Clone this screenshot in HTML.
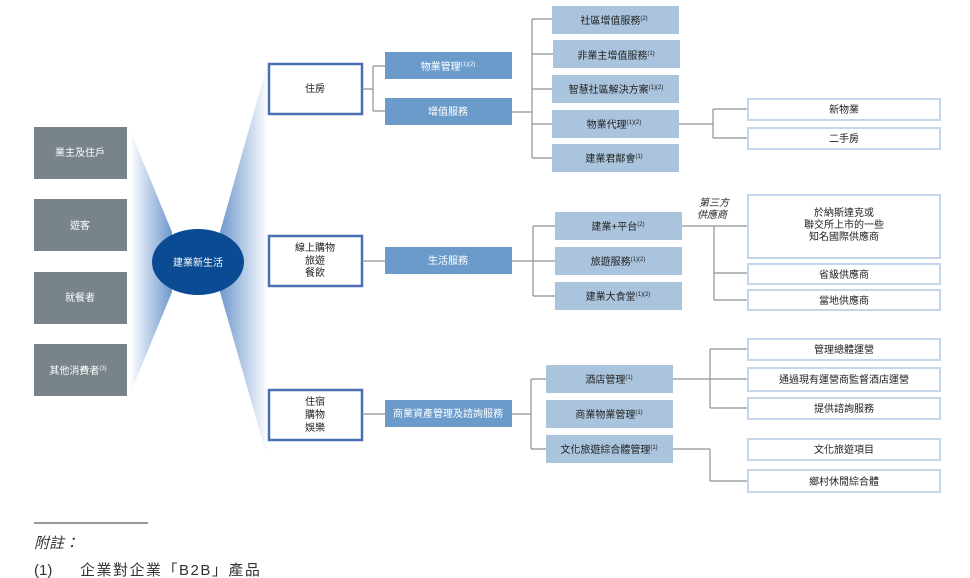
<!DOCTYPE html>
<html><head><meta charset="utf-8"><style>
body{margin:0;background:#fff;}
svg{display:block;font-family:"Liberation Sans","Noto Sans CJK TC",sans-serif;}
</style></head><body>
<svg width="970" height="578" viewBox="0 0 970 578" xmlns="http://www.w3.org/2000/svg">
<defs>
<linearGradient id="gr" x1="0" y1="0" x2="1" y2="0">
<stop offset="0" stop-color="#6f98cc"/><stop offset="0.6" stop-color="#c4d5ec"/><stop offset="1" stop-color="#ffffff"/>
</linearGradient>
<linearGradient id="gl" x1="1" y1="0" x2="0" y2="0">
<stop offset="0" stop-color="#6f98cc"/><stop offset="0.6" stop-color="#c4d5ec"/><stop offset="1" stop-color="#ffffff"/>
</linearGradient>
</defs>
<polygon points="130,130 172,232 172,292 130,394" fill="url(#gl)"/>
<polygon points="268,62 268,460 220,292 220,232" fill="url(#gr)"/>
<g fill="#78838a">
<rect x="34" y="127" width="93" height="52"/><rect x="34" y="199" width="93" height="52"/>
<rect x="34" y="272" width="93" height="52"/><rect x="34" y="344" width="93" height="52"/>
</g>
<g fill="#fff" font-size="10" text-anchor="middle">
<text x="80" y="156">業主及住戶</text><text x="80" y="229">遊客</text>
<text x="80" y="301">就餐者</text><text x="78" y="374">其他消費者<tspan font-size="6" dy="-4">(3)</tspan></text>
</g>
<ellipse cx="198" cy="262" rx="46" ry="33" fill="#0a4b93"/>
<text x="198" y="266" fill="#fff" font-size="10" text-anchor="middle">建業新生活</text>
<g fill="#fff" stroke="#4a6fb5" stroke-width="2.5">
<rect x="269" y="64" width="93" height="50"/><rect x="269" y="236" width="93" height="50"/><rect x="269" y="390" width="93" height="50"/>
</g>
<g font-size="10" text-anchor="middle" fill="#222">
<text x="315" y="92">住房</text>
<text x="315" y="251">線上購物</text><text x="315" y="264">旅遊</text><text x="315" y="276">餐飲</text>
<text x="315" y="405">住宿</text><text x="315" y="418">購物</text><text x="315" y="431">娛樂</text>
</g>
<g fill="none" stroke="#8a9298" stroke-width="1.2">
<path d="M362,89H373M373,66V111M373,66H385M373,111H385"/>
<path d="M362,261H385"/><path d="M362,414H385"/>
<path d="M512,112H532M532,19V158M532,19H552M532,54H553M532,89H552M532,124H552M532,158H552"/>
<path d="M679,124H713M713,109V138M713,109H747M713,138H747"/>
<path d="M512,261H533M533,226V296M533,226H555M533,261H555M533,296H555"/>
<path d="M682,226H747M714,226V300M714,273H747M714,300H747"/>
<path d="M512,414H531M531,379V449M531,379H546M531,449H546"/>
<path d="M673,379H748M710,349V408M710,349H748M710,408H748"/>
<path d="M673,449H710M710,449V481M710,481H748"/>
</g>
<g fill="#6b9bcb">
<rect x="385" y="52" width="127" height="27"/><rect x="385" y="98" width="127" height="27"/>
<rect x="385" y="247" width="127" height="27"/><rect x="385" y="400" width="127" height="27"/>
</g>
<g fill="#fff" font-size="10" text-anchor="middle">
<text x="448" y="70">物業管理<tspan font-size="6" dy="-4">(1)(2)</tspan></text>
<text x="448" y="115">增值服務</text><text x="448" y="264">生活服務</text>
<text x="448" y="417">商業資產管理及諮詢服務</text>
</g>
<g fill="#a9c4dc">
<rect x="552" y="6" width="127" height="28"/><rect x="553" y="40" width="127" height="28"/>
<rect x="552" y="75" width="127" height="28"/><rect x="552" y="110" width="127" height="28"/>
<rect x="552" y="144" width="127" height="28"/>
<rect x="555" y="212" width="127" height="28"/><rect x="555" y="247" width="127" height="28"/>
<rect x="555" y="282" width="127" height="28"/>
<rect x="546" y="365" width="127" height="28"/><rect x="546" y="400" width="127" height="28"/>
<rect x="546" y="435" width="127" height="28"/>
</g>
<g fill="#222" font-size="10" text-anchor="middle">
<text x="614" y="24">社區增值服務<tspan font-size="6" dy="-4">(2)</tspan></text>
<text x="616" y="59">非業主增值服務<tspan font-size="6" dy="-4">(1)</tspan></text>
<text x="616" y="93">智慧社區解決方案<tspan font-size="6" dy="-4">(1)(2)</tspan></text>
<text x="614" y="128">物業代理<tspan font-size="6" dy="-4">(1)(2)</tspan></text>
<text x="614" y="162">建業君鄰會<tspan font-size="6" dy="-4">(1)</tspan></text>
<text x="618" y="230">建業+平台<tspan font-size="6" dy="-4">(2)</tspan></text>
<text x="618" y="265">旅遊服務<tspan font-size="6" dy="-4">(1)(2)</tspan></text>
<text x="618" y="300">建業大食堂<tspan font-size="6" dy="-4">(1)(2)</tspan></text>
<text x="609" y="383">酒店管理<tspan font-size="6" dy="-4">(1)</tspan></text>
<text x="609" y="418">商業物業管理<tspan font-size="6" dy="-4">(1)</tspan></text>
<text x="609" y="453">文化旅遊綜合體管理<tspan font-size="6" dy="-4">(1)</tspan></text>
<text x="714" y="206" font-style="italic">第三方</text>
<text x="712" y="218" font-style="italic">供應商</text>
</g>
<g fill="#fff" stroke="#c5d6ea" stroke-width="2">
<rect x="748" y="99" width="192" height="21"/><rect x="748" y="128" width="192" height="21"/>
<rect x="748" y="195" width="192" height="63"/><rect x="748" y="264" width="192" height="20"/>
<rect x="748" y="290" width="192" height="20"/>
<rect x="748" y="339" width="192" height="21"/><rect x="748" y="368" width="192" height="23"/>
<rect x="748" y="398" width="192" height="21"/><rect x="748" y="439" width="192" height="21"/>
<rect x="748" y="470" width="192" height="22"/>
</g>
<g fill="#222" font-size="10" text-anchor="middle">
<text x="844" y="113">新物業</text><text x="844" y="142">二手房</text>
<text x="844" y="216">於納斯達克或</text><text x="844" y="228">聯交所上市的一些</text><text x="844" y="240">知名國際供應商</text>
<text x="844" y="278">省級供應商</text><text x="844" y="304">當地供應商</text>
<text x="844" y="353">管理總體運營</text><text x="844" y="383">通過現有運營商監督酒店運營</text>
<text x="844" y="412">提供諮詢服務</text><text x="844" y="453">文化旅遊項目</text><text x="844" y="485">鄉村休閒綜合體</text>
</g>
<line x1="34" y1="523" x2="148" y2="523" stroke="#333" stroke-width="1"/>
<text x="34" y="548" font-size="15" font-style="italic" fill="#333">附註：</text>
<text x="34" y="575" font-size="15" fill="#333">(1)</text>
<text x="80" y="575" font-size="15" fill="#333" letter-spacing="1.5">企業對企業「B2B」產品</text>
</svg>
</body></html>
